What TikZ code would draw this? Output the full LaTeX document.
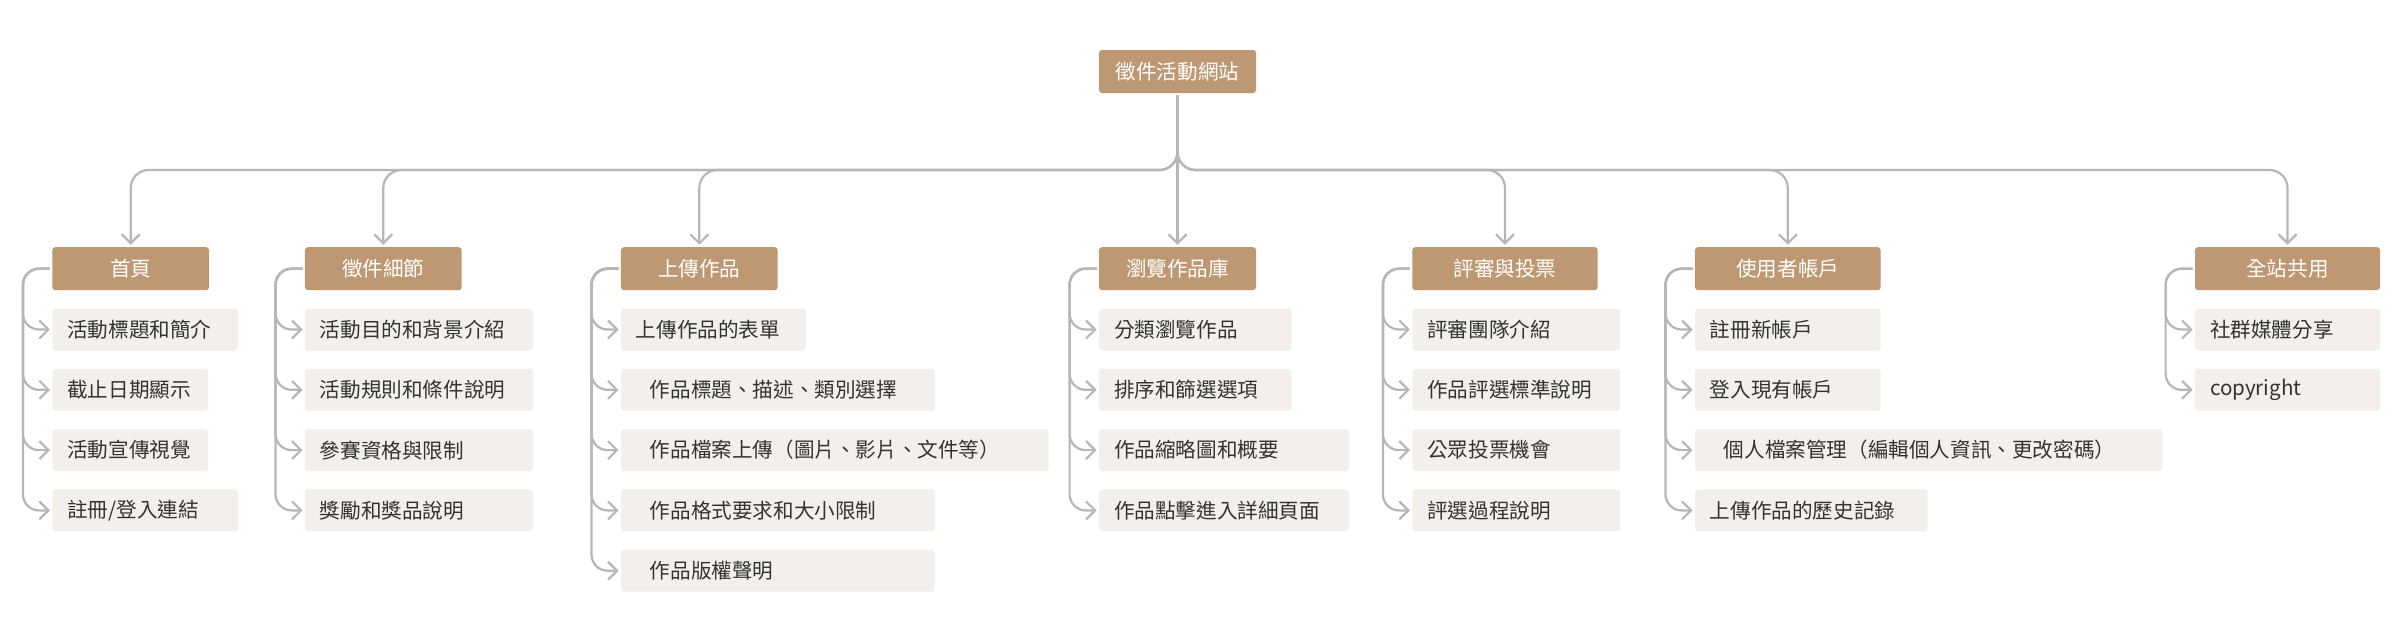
\documentclass[tikz,border=0pt]{standalone}
\usepackage{fontspec}
\setmainfont{Noto Sans CJK TC}
\usepackage{tikz}
\usetikzlibrary{positioning,arrows.meta}
\definecolor{boxtan}{RGB}{189,152,115}
\definecolor{paper}{RGB}{243,240,235}
\definecolor{wire}{RGB}{182,182,182}
\definecolor{ink}{RGB}{51,51,51}
\tikzset{
	sitemap/.style={x=0.5pt,y=-0.5pt,node distance=8.75pt,
		font=\fontsize{10.3pt}{12pt}\selectfont},
	headbox/.style={rectangle,fill=boxtan,text=white,rounded corners=1.5pt,
		minimum width=#1,minimum height=21.5pt,inner sep=0pt},
	itembox/.style={rectangle,fill=paper,text=ink,rounded corners=1.5pt,
		text width=#1,minimum height=21pt,inner xsep=7.5pt,inner ysep=0pt,align=left},
	indented/.style={execute at begin node=\hspace*{7pt}},
	link/.style={draw=wire,line width=1.1pt,->,>={Straight Barb[length=4.5pt,width=9pt]},
		shorten >=1pt,shorten <=1pt,rounded corners=9pt},
	bracket/.style={link,rounded corners=8pt}
}

\begin{document}
\begin{tikzpicture}[sitemap]
\useasboundingbox (0,0) rectangle (2400,638);

\node[headbox=78.5pt] (site) at (1177.5,71.5) {徵件活動網站};
\coordinate (bus) at (1177.5,170);

\node[headbox=78.35pt] (home) at (130.7,268.7) {首頁};
\node[headbox=78.35pt] (call) at (383.3,268.7) {徵件細節};
\node[headbox=78.35pt] (upload) at (699.3,268.7) {上傳作品};
\node[headbox=78.5pt] (gallery) at (1177.5,268.7) {瀏覽作品庫};
\node[headbox=92.7pt] (judge) at (1505,268.7) {評審與投票};
\node[headbox=92.85pt] (user) at (1787.8,268.7) {使用者帳戶};
\node[headbox=92.5pt] (common) at (2287.5,268.7) {全站共用};

% home
\node[itembox=77.7pt] (home1) [below=of home.south west, anchor=north west] {活動標題和簡介};
\node[itembox=62.85pt] (home2) [below=of home1.south west, anchor=north west] {截止日期顯示};
\node[itembox=62.85pt] (home3) [below=of home2.south west, anchor=north west] {活動宣傳視覺};
\node[itembox=77.7pt] (home4) [below=of home3.south west, anchor=north west] {註冊/登入連結};

% call
\node[itembox=99pt] (call1) [below=of call.south west, anchor=north west] {活動目的和背景介紹};
\node[itembox=99pt] (call2) [below=of call1.south west, anchor=north west] {活動規則和條件說明};
\node[itembox=99pt] (call3) [below=of call2.south west, anchor=north west] {參賽資格與限制};
\node[itembox=99pt] (call4) [below=of call3.south west, anchor=north west] {獎勵和獎品說明};

% upload
\node[itembox=77.5pt] (upload1) [below=of upload.south west, anchor=north west] {上傳作品的表單};
\node[itembox=141.85pt, indented] (upload2) [below=of upload1.south west, anchor=north west] {作品標題、描述、類別選擇};
\node[itembox=198.85pt, indented] (upload3) [below=of upload2.south west, anchor=north west] {作品檔案上傳（圖片、影片、文件等）};
\node[itembox=141.85pt, indented] (upload4) [below=of upload3.south west, anchor=north west] {作品格式要求和大小限制};
\node[itembox=141.85pt, indented] (upload5) [below=of upload4.south west, anchor=north west] {作品版權聲明};

% gallery
\node[itembox=81.35pt] (gallery1) [below=of gallery.south west, anchor=north west] {分類瀏覽作品};
\node[itembox=81.35pt] (gallery2) [below=of gallery1.south west, anchor=north west] {排序和篩選選項};
\node[itembox=110pt] (gallery3) [below=of gallery2.south west, anchor=north west] {作品縮略圖和概要};
\node[itembox=110pt] (gallery4) [below=of gallery3.south west, anchor=north west] {作品點擊進入詳細頁面};

% judge
\node[itembox=88.85pt] (judge1) [below=of judge.south west, anchor=north west] {評審團隊介紹};
\node[itembox=88.85pt] (judge2) [below=of judge1.south west, anchor=north west] {作品評選標準說明};
\node[itembox=88.85pt] (judge3) [below=of judge2.south west, anchor=north west] {公眾投票機會};
\node[itembox=88.85pt] (judge4) [below=of judge3.south west, anchor=north west] {評選過程說明};

% user
\node[itembox=77.85pt] (user1) [below=of user.south west, anchor=north west] {註冊新帳戶};
\node[itembox=77.85pt] (user2) [below=of user1.south west, anchor=north west] {登入現有帳戶};
\node[itembox=218.65pt, indented] (user3) [below=of user2.south west, anchor=north west] {個人檔案管理（編輯個人資訊、更改密碼）};
\node[itembox=101.35pt] (user4) [below=of user3.south west, anchor=north west] {上傳作品的歷史記錄};

% common
\node[itembox=77.5pt] (common1) [below=of common.south west, anchor=north west] {社群媒體分享};
\node[itembox=77.5pt] (common2) [below=of common1.south west, anchor=north west] {copyright};

% links from the site
\draw[link] (site) -- (gallery);
\foreach \n in {home,call,upload,judge,user,common}
	\draw[link] (site) |- (bus -| \n) -- (\n);

% brackets to the items
\foreach \p/\k in {home/4,call/4,upload/5,gallery/4,judge/4,user/4,common/2}
	\foreach \i in {1,...,\k}
		\draw[bracket] (\p.west) -| ([xshift=-14.5pt]\p\i.west) -- (\p\i);
\end{tikzpicture}
\end{document}
